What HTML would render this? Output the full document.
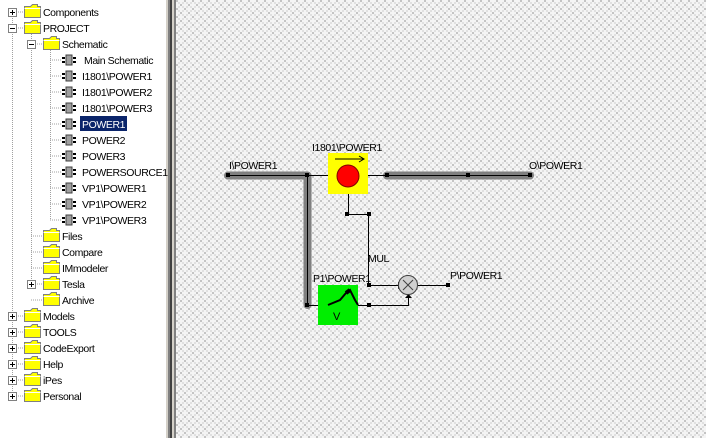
<!DOCTYPE html>
<html><head><style>
body{margin:0;width:706px;height:438px;overflow:hidden;font-family:"Liberation Sans",sans-serif;background:#fff}
</style></head><body>
<svg width="706" height="438" xmlns="http://www.w3.org/2000/svg" font-family="Liberation Sans, sans-serif">
<defs>
<pattern id="chk" width="8" height="8" patternUnits="userSpaceOnUse">
<rect width="8" height="8" fill="#f4f4f4"/>
<rect x="0" y="0" width="2" height="2" fill="#c4c4c4"/>
<rect x="4" y="4" width="2" height="2" fill="#c4c4c4"/>
<rect x="2" y="2" width="2" height="2" fill="#e0e0e0"/>
<rect x="6" y="6" width="2" height="2" fill="#e0e0e0"/>
<rect x="2" y="6" width="2" height="2" fill="#e0e0e0"/>
<rect x="6" y="2" width="2" height="2" fill="#e0e0e0"/>
</pattern>
<g id="fold"><path d="M0.5,3.5 h6 l2,-2 h5 v2 h3 v11 h-16z" fill="#ffff00" stroke="#808080"/><path d="M0.5,5.5 h16" stroke="#fff"/></g>
<g id="comp"><rect x="4" y="0" width="6" height="10" fill="#a0a0a0" stroke="#404040"/><rect x="0" y="2" width="3" height="2" fill="#000"/><rect x="0" y="6" width="3" height="2" fill="#000"/><rect x="11" y="2" width="3" height="2" fill="#000"/><rect x="11" y="6" width="3" height="2" fill="#000"/></g>
<g id="plus"><rect x="0.5" y="0.5" width="8" height="8" fill="#fff" stroke="#808080"/><path d="M2,4.5h5M4.5,2v5" stroke="#000"/></g>
<g id="minus"><rect x="0.5" y="0.5" width="8" height="8" fill="#fff" stroke="#808080"/><path d="M2,4.5h5" stroke="#000"/></g>
</defs>
<rect x="0" y="0" width="166" height="438" fill="#fff"/>
<rect x="166" y="0" width="2" height="438" fill="#d4d0c8"/>
<rect x="168" y="0" width="2" height="438" fill="#808080"/>
<rect x="170" y="0" width="2" height="438" fill="#404040"/>
<rect x="172" y="0" width="2" height="438" fill="#d4d0c8"/>
<rect x="174" y="0" width="2" height="438" fill="#808080"/>
<rect x="176" y="0" width="530" height="438" fill="url(#chk)"/>

<g stroke="#a0a0a0" stroke-dasharray="1,1" fill="none">
<path d="M12.5,12 V396"/>
<path d="M31.5,28 V284"/>
<path d="M50.5,44 V220"/>
<path d="M16,12h8M16,28h8M16,316h8M16,332h8M16,348h8M16,364h8M16,380h8M16,396h8"/>
<path d="M35,44h8M35,284h8M31,236h12M31,252h12M31,268h12M31,300h12"/>
<path d="M50,60h12M50,76h12M50,92h12M50,108h12M50,124h12M50,140h12M50,156h12M50,172h12M50,188h12M50,204h12M50,220h12"/>
</g>
<g>
<use href="#plus" x="8" y="8"/><use href="#minus" x="8" y="24"/><use href="#minus" x="27" y="40"/><use href="#plus" x="27" y="280"/>
<use href="#plus" x="8" y="312"/><use href="#plus" x="8" y="328"/><use href="#plus" x="8" y="344"/><use href="#plus" x="8" y="360"/><use href="#plus" x="8" y="376"/><use href="#plus" x="8" y="392"/>
<use href="#fold" x="24" y="3"/><use href="#fold" x="24" y="19"/><use href="#fold" x="43" y="35"/>
<use href="#fold" x="43" y="227"/><use href="#fold" x="43" y="243"/><use href="#fold" x="43" y="259"/><use href="#fold" x="43" y="275"/><use href="#fold" x="43" y="291"/>
<use href="#fold" x="24" y="307"/><use href="#fold" x="24" y="323"/><use href="#fold" x="24" y="339"/><use href="#fold" x="24" y="355"/><use href="#fold" x="24" y="371"/><use href="#fold" x="24" y="387"/>
<use href="#comp" x="62" y="55"/><use href="#comp" x="62" y="71"/><use href="#comp" x="62" y="87"/><use href="#comp" x="62" y="103"/><use href="#comp" x="62" y="119"/><use href="#comp" x="62" y="135"/><use href="#comp" x="62" y="151"/><use href="#comp" x="62" y="167"/><use href="#comp" x="62" y="183"/><use href="#comp" x="62" y="199"/><use href="#comp" x="62" y="215"/>
</g>
<rect x="80" y="116" width="47" height="15" fill="#0a246a"/>
<g font-size="10.5" letter-spacing="-0.4" fill="#000">
<text x="43" y="16">Components</text><text x="43" y="32">PROJECT</text><text x="62" y="48">Schematic</text>
<text x="84" y="64">Main Schematic</text><text x="82" y="80">I1801\POWER1</text><text x="82" y="96">I1801\POWER2</text><text x="82" y="112">I1801\POWER3</text>
<text x="82" y="128" fill="#fff">POWER1</text><text x="82" y="144">POWER2</text><text x="82" y="160">POWER3</text><text x="82" y="176">POWERSOURCE1</text>
<text x="82" y="192">VP1\POWER1</text><text x="82" y="208">VP1\POWER2</text><text x="82" y="224">VP1\POWER3</text>
<text x="62" y="240">Files</text><text x="62" y="256">Compare</text><text x="62" y="272">IMmodeler</text><text x="62" y="288">Tesla</text><text x="62" y="304">Archive</text>
<text x="43" y="320">Models</text><text x="43" y="336">TOOLS</text><text x="43" y="352">CodeExport</text><text x="43" y="368">Help</text><text x="43" y="384">iPes</text><text x="43" y="400">Personal</text>
</g>

<!-- diagram -->
<g stroke="#808080" stroke-width="8" stroke-linecap="round" stroke-linejoin="round" fill="none">
<path d="M228,175.5 H307.5 V305"/><path d="M387,175.5 H530"/>
</g>
<g stroke="#000" stroke-width="1" fill="none">
<path d="M228,175.5 H307.5 V305"/><path d="M387,175.5 H530"/>
<path d="M307,175.5 H387"/>
<path d="M348.5,188 V214.5 H368.5 V285.5 H398"/>
<path d="M307,305.5 H318"/>
<path d="M358,305.5 H408.5 V298"/>
<path d="M418,285.5 H448"/>
</g>
<path d="M398,282 L403,285.5 L398,289z" fill="#000"/>
<path d="M405,298 L408.5,294 L412,298z" fill="#000"/>
<rect x="328" y="153" width="40" height="41" fill="#ffff00"/>
<circle cx="348" cy="176" r="11" fill="#ff0000" stroke="#800000"/>
<path d="M335,159 H364 M359,156 L364,159 L359,162" stroke="#000" fill="none"/>
<rect x="318" y="285" width="40" height="40" fill="#00ee00"/>
<path d="M328,305 L340,300 L346,293 L350,290 L355,300 L358,305" stroke="#000" fill="none" stroke-width="2"/>
<path d="M346,293 L350,290" stroke="#000" stroke-width="4"/>
<text x="333" y="320" font-size="11">V</text>
<circle cx="408" cy="285" r="9.5" fill="#d0d0d0" stroke="#404040"/>
<path d="M403,280 L413,290 M413,280 L403,290" stroke="#404040"/>
<g fill="#000">
<rect x="226" y="173" width="4" height="4"/><rect x="305" y="173" width="4" height="4"/><rect x="385" y="173" width="4" height="4"/><rect x="466" y="173" width="4" height="4"/><rect x="528" y="173" width="4" height="4"/>
<rect x="345" y="212" width="4" height="4"/><rect x="367" y="212" width="4" height="4"/><rect x="367" y="283" width="4" height="4"/>
<rect x="305" y="303" width="4" height="4"/><rect x="367" y="303" width="4" height="4"/><rect x="446" y="283" width="4" height="4"/>
</g>
<g font-size="10.5" letter-spacing="-0.4" fill="#000">
<text x="229" y="169">I\POWER1</text><text x="312" y="151">I1801\POWER1</text><text x="529" y="169">O\POWER1</text>
<text x="368" y="262">MUL</text><text x="450" y="279">P\POWER1</text><text x="313" y="282">P1\POWER1</text>
</g>
</svg>
</body></html>
